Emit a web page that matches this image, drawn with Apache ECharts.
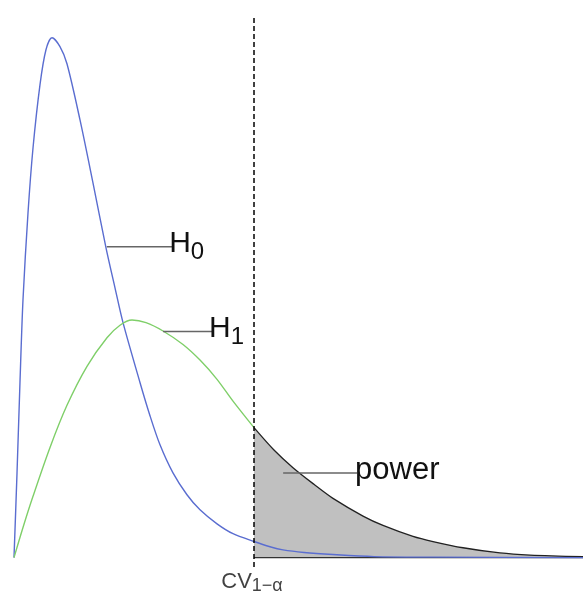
<!DOCTYPE html>
<html>
<head>
<meta charset="utf-8">
<title>power</title>
<script src="https://cdn.jsdelivr.net/npm/echarts@6/dist/echarts.min.js"></script>
<style>
html, body { margin: 0; padding: 0; background: #fff; }
#chart { width: 583px; height: 596px; }
</style>
</head>
<body>
<div id="chart"></div>
<script>
// density under H0
var h0Curve = [[0,0],[0.053,0.163],[0.105,0.337],[0.158,0.496],[0.246,0.663],[0.334,0.788],
  [0.457,0.910],[0.562,0.977],[0.668,1.0],[0.808,0.983],[0.931,0.950],[1.16,0.842],[1.388,0.721],
  [1.617,0.596],[1.775,0.519],[1.916,0.452],[2.214,0.337],[2.39,0.273],[2.566,0.217],[2.794,0.163],
  [3.04,0.121],[3.269,0.092],[3.568,0.065],[3.849,0.046],[4.218,0.031],[4.499,0.021],[4.728,0.015],
  [5.097,0.010],[5.606,0.006],[6.327,0.002],[7.381,0.001],[10,0]];
// density under H1, left of the critical value
var h1Curve = [[0,0],[0.158,0.058],[0.334,0.118],[0.633,0.212],[0.931,0.293],[1.283,0.368],
  [1.634,0.423],[1.863,0.447],[2.074,0.457],[2.32,0.452],[2.619,0.436],[2.97,0.41],[3.269,0.38],
  [3.568,0.343],[3.849,0.301],[4.218,0.25]];
// H1 right of the critical value (shaded = power)
var powerCurve = [[4.218,0.25],[4.569,0.207],[4.903,0.173],[5.272,0.141],[5.606,0.114],[6.134,0.080],
  [6.485,0.062],[7.012,0.041],[7.364,0.031],[7.891,0.019],[8.541,0.009],[9.069,0.005],[10,0.002]];
var critValue = 4.218;
var baseLine = [[critValue,0],[10,0]];

var h0Leader = [[1.63,0.598],[2.78,0.598]];
var h1Leader = [[2.62,0.435],[3.48,0.435]];
var powerLeader = [[4.73,0.163],[6.03,0.163]];

var h0Text = '{m|H}{s|0}';
var h1Text = '{m|H}{s|1}';
var powerText = '{p|power}';
var cvText = '{m|CV}{s|1\u2212\u03b1}';

var font = 'Liberation Sans';
var richText = {
  m: { fontSize: 30, lineHeight: 42, fontFamily: font, color: '#111', verticalAlign: 'middle' },
  s: { fontSize: 24, lineHeight: 24, fontFamily: font, color: '#111', verticalAlign: 'bottom' },
  p: { fontSize: 31, lineHeight: 40, fontFamily: font, color: '#111' }
};
var cvRich = {
  m: { fontSize: 22, lineHeight: 26, fontFamily: font, color: '#111', verticalAlign: 'middle' },
  s: { fontSize: 18, lineHeight: 18, fontFamily: font, color: '#111', verticalAlign: 'bottom' }
};

function leader(data, text, offset) {
  return {
    type: 'line', data: data, symbol: 'none', silent: true, z: 5,
    lineStyle: { color: '#666', width: 1.5 },
    endLabel: { show: true, formatter: text, rich: richText, distance: 0, offset: offset }
  };
}

var chart = echarts.init(document.getElementById('chart'));
var option = {
  animation: false,
  grid: { left: 14, right: 0, top: 17, bottom: 29 },
  xAxis: { type: 'value', min: 0, max: 10, show: false },
  yAxis: { type: 'value', min: -0.018, max: 1.04, show: false },
  series: [
    {
      type: 'line', data: powerCurve, symbol: 'none', smooth: 0.3, z: 1,
      lineStyle: { color: '#222', width: 1.3 },
      areaStyle: { color: '#c0c0c0', opacity: 1, origin: 0 }
    },
    {
      type: 'line', data: baseLine, symbol: 'none', z: 2,
      lineStyle: { color: '#333', width: 1.3 }
    },
    {
      type: 'line', data: h0Curve, symbol: 'none', smooth: 0.3, z: 3,
      lineStyle: { color: '#5a6dd0', width: 1.4 }
    },
    {
      type: 'line', data: h1Curve, symbol: 'none', smooth: 0.3, z: 3,
      lineStyle: { color: '#7fcf69', width: 1.4 }
    },
    {
      type: 'line', symbol: 'none', z: 4,
      data: [[critValue, -0.018], [critValue, 1.04]],
      lineStyle: { color: '#000', width: 1.5, type: [5, 3] }
    },
    {
      type: 'scatter', symbolSize: 0, silent: true, z: 4,
      data: [[critValue, -0.018]],
      label: { show: true, position: 'bottom', distance: 2, offset: [-2, 0], formatter: cvText, rich: cvRich }
    },
    leader(h0Leader, h0Text, [-3, -3]),
    leader(h1Leader, h1Text, [-3, -3]),
    leader(powerLeader, powerText, [-2, -2])
  ]
};
chart.setOption(option);
</script>
</body>
</html>
